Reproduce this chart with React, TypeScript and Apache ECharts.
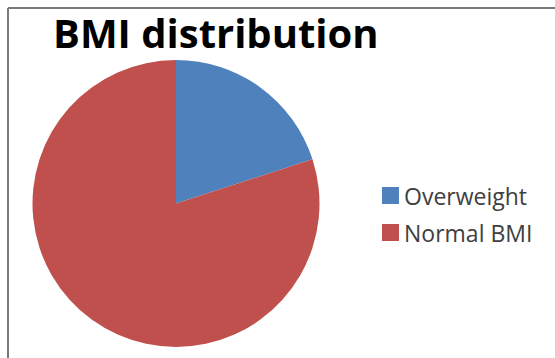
import React, { useEffect, useRef } from "react";
import * as echarts from "echarts";

const categories: string[] = ["Overweight", "Normal BMI"];
const shares: number[] = [20, 80];
const sliceColors: string[] = ["#4f81bd", "#c0504d"];
const chartTitle = "BMI distribution";

export default function App() {
  const ref = useRef<HTMLDivElement>(null);

  useEffect(() => {
    document.body.style.margin = "0";
    if (!ref.current) return;
    const chart = echarts.init(ref.current, undefined, { renderer: "svg" });
    chart.setOption({
      animation: false,
      backgroundColor: "#ffffff",
      title: {
        text: chartTitle,
        left: 53,
        top: 12,
        padding: 0,
        textStyle: {
          fontFamily: "Open Sans",
          fontWeight: "bold",
          fontSize: 40,
          color: "#000000",
        },
      },
      legend: {
        orient: "vertical",
        left: 382,
        top: 184,
        padding: 0,
        itemWidth: 17,
        itemHeight: 17,
        itemGap: 14,
        icon: "rect",
        data: categories,
        textStyle: {
          fontFamily: "Open Sans",
          fontSize: 23,
          lineHeight: 17,
          color: "#404040",
          padding: [0, 0, 0, 0],
        },
      },
      graphic: [
        {
          type: "line",
          shape: { x1: 8, y1: 8, x2: 555, y2: 8 },
          style: { stroke: "#7a7a7a", lineWidth: 2 },
        },
        {
          type: "line",
          shape: { x1: 8, y1: 8, x2: 8, y2: 358 },
          style: { stroke: "#7a7a7a", lineWidth: 2 },
        },
      ],
      series: [
        {
          type: "pie",
          center: [176, 203.5],
          radius: 143.5,
          startAngle: 90,
          clockwise: true,
          label: { show: false },
          labelLine: { show: false },
          emphasis: { disabled: true },
          itemStyle: { borderWidth: 0 },
          data: categories.map((name, i) => ({
            name,
            value: shares[i],
            itemStyle: { color: sliceColors[i] },
          })),
        },
      ],
    });
    return () => chart.dispose();
  }, []);

  return <div ref={ref} style={{ width: 555, height: 358 }} />;
}
